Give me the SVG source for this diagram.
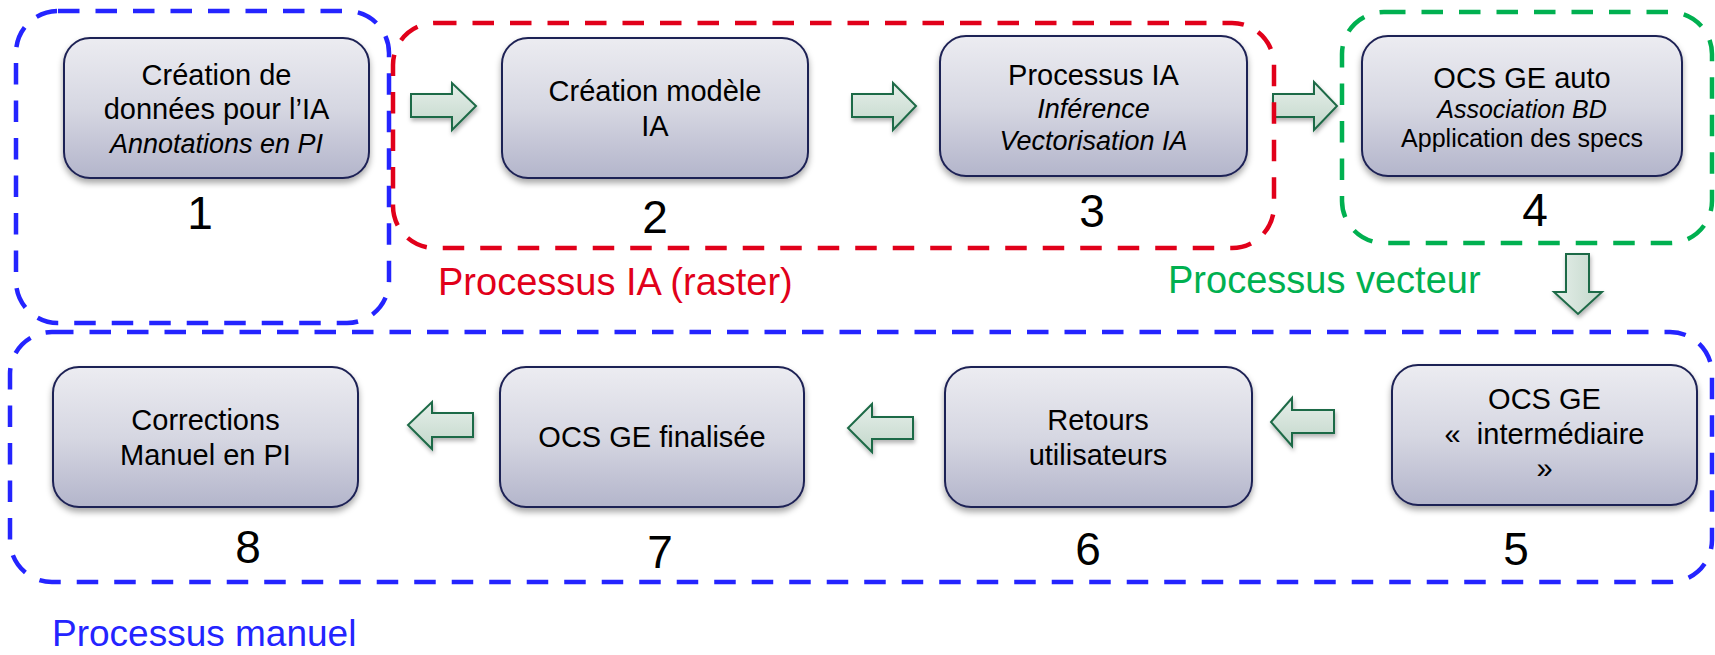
<svg xmlns="http://www.w3.org/2000/svg" width="1715" height="655" viewBox="0 0 1715 655">
  <defs>
    <linearGradient id="nodeGrad" x1="0" y1="0" x2="0" y2="1">
      <stop offset="0" stop-color="#ECECF1"/>
      <stop offset="0.5" stop-color="#D6D7E2"/>
      <stop offset="1" stop-color="#B3B5CB"/>
    </linearGradient>
    <linearGradient id="arrowGradH" x1="0" y1="0" x2="0" y2="1">
      <stop offset="0" stop-color="#E6EFEA"/>
      <stop offset="1" stop-color="#C2D7CA"/>
    </linearGradient>
    <linearGradient id="arrowGradV" x1="0" y1="0" x2="1" y2="0">
      <stop offset="0" stop-color="#E6EFEA"/>
      <stop offset="1" stop-color="#C2D7CA"/>
    </linearGradient>
    <filter id="shadow" x="-10%" y="-10%" width="120%" height="130%">
      <feDropShadow dx="0" dy="4" stdDeviation="3" flood-color="#000" flood-opacity="0.35"/>
    </filter>
    <filter id="ashadow" x="-20%" y="-20%" width="140%" height="150%">
      <feDropShadow dx="1" dy="3" stdDeviation="2" flood-color="#000" flood-opacity="0.3"/>
    </filter>
  </defs>
  <style>
    .node { fill: url(#nodeGrad); stroke: #1E2154; stroke-width: 2; filter: url(#shadow); }
    .t { font-family: "Liberation Sans", Arial, sans-serif; font-size: 29px; fill: #000; text-anchor: middle; }
    .it { font-style: italic; font-size: 27px; }
    .sm { font-size: 25px; }
    .num { font-family: "Liberation Sans", Arial, sans-serif; font-size: 46px; fill: #000; text-anchor: middle; }
    .grp { fill: none; stroke-width: 4.5; stroke-dasharray: 21.5 16; }
    .lbl { font-family: "Liberation Sans", Arial, sans-serif; font-size: 38px; }
    .arr { stroke: #1F6A47; stroke-width: 2; stroke-linejoin: miter; filter: url(#ashadow); }
    .h { fill: url(#arrowGradH); }
    .v { fill: url(#arrowGradV); }
  </style>
  <rect width="1715" height="655" fill="#FFFFFF"/>

  <g id="connectors">
    <polygon class="arr h" points="411,94 452,94 452,83 476,106 452,130 452,117 411,117"/>
    <polygon class="arr h" points="852,94 893,94 893,83 916,106 893,130 893,117 852,117"/>
    <polygon class="arr h" points="1273,94 1314,94 1314,82 1337,106 1314,130 1314,117 1273,117"/>
    <polygon class="arr v" points="1566,254 1589,254 1589,292 1602,292 1578,314 1554,292 1566,292"/>
    <polygon class="arr h" points="1334,410 1292,410 1292,398 1271,422 1292,446 1292,433 1334,433"/>
    <polygon class="arr h" points="913,417 872,417 872,404 848,428 872,452 872,439 913,439"/>
    <polygon class="arr h" points="473,413 432,413 432,402 408,425 432,449 432,437 473,437"/>
  </g>

  <g id="group-manuel-haut">
    <rect class="grp" x="16" y="11" width="373" height="312" rx="42" stroke="#2424FF"/>
  </g>
  <g id="group-ia">
    <rect class="grp" x="393" y="23" width="881" height="225" rx="42" stroke="#E1001A"/>
    <text class="lbl" x="438" y="295" fill="#E1001A">Processus IA (raster)</text>
  </g>
  <g id="group-vecteur">
    <rect class="grp" x="1342" y="12" width="370" height="231" rx="42" stroke="#00B050"/>
    <text class="lbl" x="1168" y="293" fill="#00B050">Processus vecteur</text>
  </g>
  <g id="group-manuel">
    <rect class="grp" x="10" y="332" width="1702" height="250" rx="42" stroke="#2424FF"/>
    <text class="lbl" x="52" y="646" fill="#2424FF" style="font-size:37px">Processus manuel</text>
  </g>

  <g id="node1">
    <rect class="node" x="64" y="38" width="305" height="140" rx="26"/>
    <text class="t" x="216.5" y="85">Création de</text>
    <text class="t" x="216.5" y="119">données pour l’IA</text>
    <text class="t it" x="216.5" y="153">Annotations en PI</text>
    <text class="num" x="200" y="229">1</text>
  </g>
  <g id="node2">
    <rect class="node" x="502" y="38" width="306" height="140" rx="26"/>
    <text class="t" x="655" y="101">Création modèle</text>
    <text class="t" x="655" y="136">IA</text>
    <text class="num" x="655" y="233">2</text>
  </g>
  <g id="node3">
    <rect class="node" x="940" y="36" width="307" height="140" rx="26"/>
    <text class="t" x="1093.5" y="85">Processus IA</text>
    <text class="t it" x="1093.5" y="118">Inférence</text>
    <text class="t it" x="1093.5" y="150">Vectorisation IA</text>
    <text class="num" x="1092" y="227">3</text>
  </g>
  <g id="node4">
    <rect class="node" x="1362" y="36" width="320" height="140" rx="26"/>
    <text class="t" x="1522" y="88">OCS GE auto</text>
    <text class="t it sm" x="1522" y="118">Association BD</text>
    <text class="t sm" x="1522" y="147">Application des specs</text>
    <text class="num" x="1535" y="226">4</text>
  </g>
  <g id="node5">
    <rect class="node" x="1392" y="365" width="305" height="140" rx="26"/>
    <text class="t" x="1544.5" y="409">OCS GE</text>
    <text class="t" x="1544.5" y="444" xml:space="preserve">«  intermédiaire</text>
    <text class="t" x="1544.5" y="478">»</text>
    <text class="num" x="1516" y="565">5</text>
  </g>
  <g id="node6">
    <rect class="node" x="945" y="367" width="307" height="140" rx="26"/>
    <text class="t" x="1098" y="430">Retours</text>
    <text class="t" x="1098" y="465">utilisateurs</text>
    <text class="num" x="1088" y="565">6</text>
  </g>
  <g id="node7">
    <rect class="node" x="500" y="367" width="304" height="140" rx="26"/>
    <text class="t" x="652" y="447">OCS GE finalisée</text>
    <text class="num" x="660" y="568">7</text>
  </g>
  <g id="node8">
    <rect class="node" x="53" y="367" width="305" height="140" rx="26"/>
    <text class="t" x="205.5" y="430">Corrections</text>
    <text class="t" x="205.5" y="465">Manuel en PI</text>
    <text class="num" x="248" y="563">8</text>
  </g>
</svg>
